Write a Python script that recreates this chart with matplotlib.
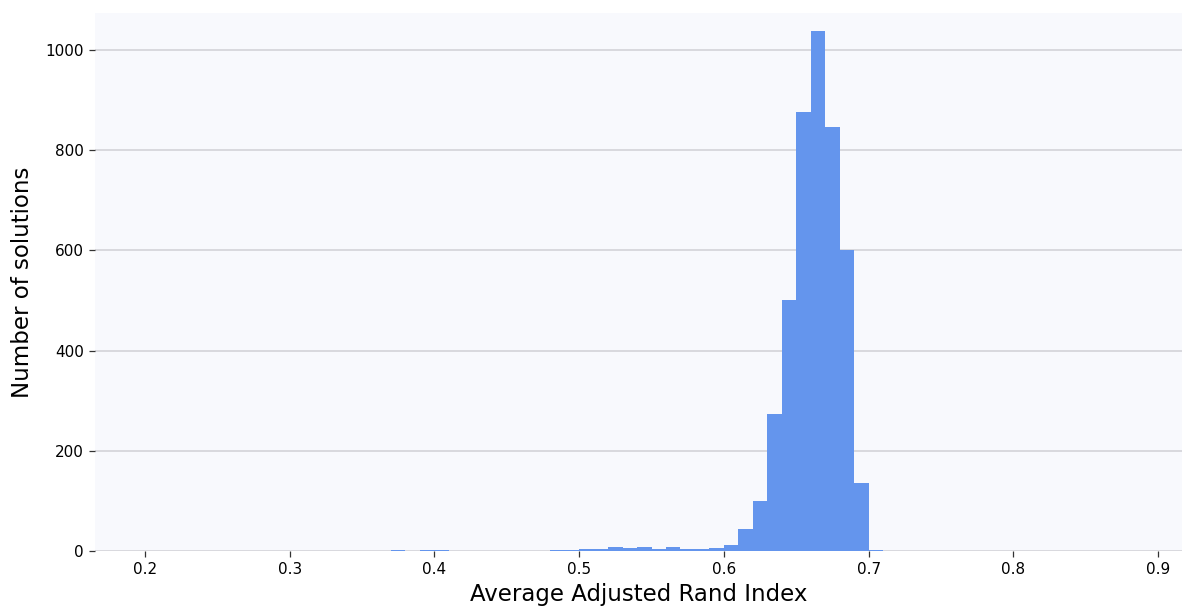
import numpy as np
import matplotlib
matplotlib.use('Agg')
import matplotlib.pyplot as plt

plt.rcParams['font.family'] = ['DejaVu Sans']

# histogram bins (left edges, width 0.01) and counts
bin_left = [0.37, 0.39, 0.40, 0.48, 0.49, 0.50, 0.51, 0.52, 0.53, 0.54, 0.55,
            0.56, 0.57, 0.58, 0.59, 0.60, 0.61, 0.62, 0.63, 0.64, 0.65, 0.66,
            0.67, 0.68, 0.69, 0.70]
counts = [1, 1, 1, 1, 2, 3, 3, 7, 5, 7, 3,
          7, 3, 3, 5, 11, 43, 100, 273, 501, 876, 1038,
          846, 601, 136, 1]
bin_width = 0.01
x_ticks = [0.2, 0.3, 0.4, 0.5, 0.6, 0.7, 0.8, 0.9]
y_ticks = [0, 200, 400, 600, 800, 1000]

fig = plt.figure(figsize=(11.82, 6.08), dpi=100)
ax = fig.add_axes([0.0804, 0.0938, 0.9196, 0.8848])
ax.set_facecolor('#f8f9fd')

ax.bar(bin_left, counts, width=bin_width, align='edge', color='#6495ed',
       linewidth=0, zorder=3)

ax.set_xlim(0.1655, 0.9165)
ax.set_ylim(0, 1074)
ax.set_xticks(x_ticks)
ax.set_xticklabels([str(t) for t in x_ticks])
ax.set_yticks(y_ticks)
ax.yaxis.grid(True, color='#d3d3d8', linewidth=1.2, zorder=0)
ax.set_axisbelow(True)
for s in ax.spines.values():
    s.set_visible(False)
ax.tick_params(axis='both', labelsize=11, length=4, color='#333333', width=0.9,
               pad=4)

ax.set_xlabel('Average Adjusted Rand Index', fontsize=16.5, labelpad=4)
ax.set_ylabel('Number of solutions', fontsize=16.5, labelpad=8)

fig.savefig('out.png', dpi=100)
